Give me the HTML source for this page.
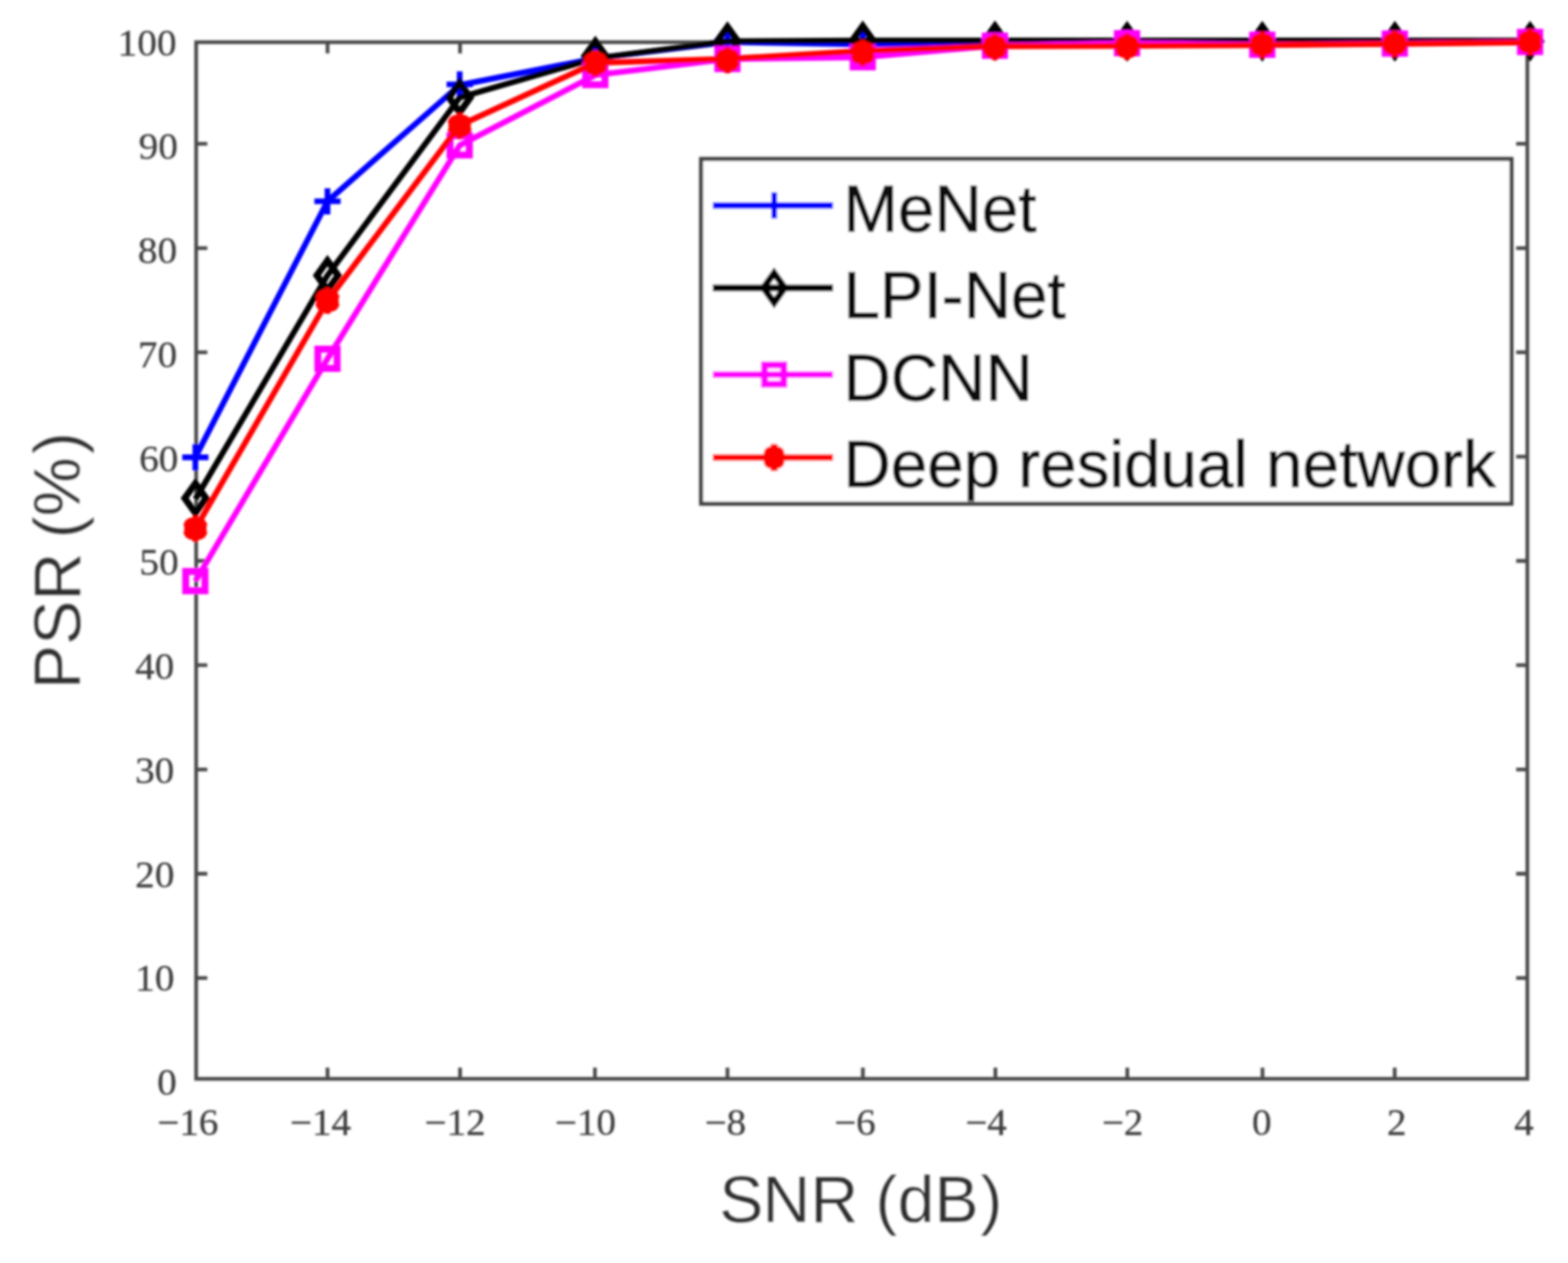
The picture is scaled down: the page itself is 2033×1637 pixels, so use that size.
<!DOCTYPE html>
<html lang="en">
<head>
<meta charset="utf-8">
<title>PSR versus SNR</title>
<style>
html,body{margin:0;padding:0;background:#fff;}
body{width:2033px;height:1637px;}
svg{display:block;}
.tick{font-family:"Liberation Serif","DejaVu Serif",serif;font-size:48px;fill:#3c3c3c;stroke:#3c3c3c;stroke-width:0.3px;}
.axl{font-family:"Liberation Sans","DejaVu Sans",sans-serif;font-size:86px;fill:#2e2e2e;stroke:#fff;stroke-width:0.4px;}
.leg{font-family:"Liberation Sans","DejaVu Sans",sans-serif;font-size:85px;fill:#0c0c0c;stroke:#0c0c0c;stroke-width:1.1px;}
</style>
</head>
<body>
<svg width="2033" height="1637" viewBox="0 0 2033 1637" role="img" aria-label="PSR (%) versus SNR (dB) for MeNet, LPI-Net, DCNN and Deep residual network">
<defs><filter id="soft" x="0" y="0" width="2033" height="1637" filterUnits="userSpaceOnUse"><feGaussianBlur stdDeviation="1.4"/></filter></defs>
<rect width="2033" height="1637" fill="#ffffff"/>
<g id="plot" filter="url(#soft)">

<g stroke="#4a4a4a" stroke-width="4.8" fill="none" stroke-linecap="butt">
<rect x="254.3" y="54.7" width="1726.0" height="1343.6"/>
<path d="M424.7 1398.3v-14.5M424.7 54.7v14.5M596.5 1398.3v-14.5M596.5 54.7v14.5M771.4 1398.3v-14.5M771.4 54.7v14.5M943.2 1398.3v-14.5M943.2 54.7v14.5M1118.8 1398.3v-14.5M1118.8 54.7v14.5M1290.6 1398.3v-14.5M1290.6 54.7v14.5M1461.6 1398.3v-14.5M1461.6 54.7v14.5M1636.9 1398.3v-14.5M1636.9 54.7v14.5M1808.3 1398.3v-14.5M1808.3 54.7v14.5M254.3 1267.7h14.5M1980.3 1267.7h-14.5M254.3 1132.5h14.5M1980.3 1132.5h-14.5M254.3 997.4h14.5M1980.3 997.4h-14.5M254.3 862.2h14.5M1980.3 862.2h-14.5M254.3 727.0h14.5M1980.3 727.0h-14.5M254.3 591.9h14.5M1980.3 591.9h-14.5M254.3 456.7h14.5M1980.3 456.7h-14.5M254.3 321.6h14.5M1980.3 321.6h-14.5M254.3 186.4h14.5M1980.3 186.4h-14.5"/>
</g>
<g class="tick" text-anchor="end">
<text transform="translate(229.3 1419.0) scale(1.06 1)">0</text>
<text transform="translate(226.2 1284.3) scale(1.06 1)">10</text>
<text transform="translate(226.2 1149.5) scale(1.06 1)">20</text>
<text transform="translate(226.0 1014.8) scale(1.06 1)">30</text>
<text transform="translate(226.0 880.1) scale(1.06 1)">40</text>
<text transform="translate(231.7 745.4) scale(1.06 1)">50</text>
<text transform="translate(231.3 610.6) scale(1.06 1)">60</text>
<text transform="translate(229.7 475.9) scale(1.06 1)">70</text>
<text transform="translate(229.7 341.2) scale(1.06 1)">80</text>
<text transform="translate(230.7 206.4) scale(1.06 1)">90</text>
<text transform="translate(228.9 71.7) scale(1.06 1)">100</text>
</g>
<g class="tick" text-anchor="middle">
<text transform="translate(243.5 1471) scale(1.06 1)">−16</text>
<text transform="translate(415.5 1471) scale(1.06 1)">−14</text>
<text transform="translate(590.0 1471) scale(1.06 1)">−12</text>
<text transform="translate(759.0 1471) scale(1.06 1)">−10</text>
<text transform="translate(940.5 1471) scale(1.06 1)">−8</text>
<text transform="translate(1108.5 1471) scale(1.06 1)">−6</text>
<text transform="translate(1278.5 1471) scale(1.06 1)">−4</text>
<text transform="translate(1455.5 1471) scale(1.06 1)">−2</text>
<text transform="translate(1636.0 1471) scale(1.06 1)">0</text>
<text transform="translate(1811.0 1471) scale(1.06 1)">2</text>
<text transform="translate(1976.0 1471) scale(1.06 1)">4</text>
</g>
<g class="axl">
<text x="932.5" y="1584" dx="0 -1.3 0 0 -1.7 0 0 2.2">SNR (dB)</text>
<text transform="translate(103.8 893.2) rotate(-90)" x="0" y="0" dx="0 0 0 0 -5.3 0 3.9">PSR (%)</text>
</g>
<g id="s-blue">
<polyline points="253.3,592.7 424.6,260.9 596.0,110.3 771.9,75.6 943.2,54.5 1118.6,57.5 1290.0,55.0 1461.3,54.5 1636.6,54.5 1808.5,54.5 1983.8,54.5" fill="none" stroke="#0000ff" stroke-width="7.5" stroke-linejoin="round"/>
<path d="M236.3 592.7H270.3M253.3 575.7V609.7" stroke="#0000ff" stroke-width="7.4" fill="none"/>
<path d="M407.6 260.9H441.6M424.6 243.9V277.9" stroke="#0000ff" stroke-width="7.4" fill="none"/>
<path d="M579.0 109.4H613.0M596.0 92.4V126.4" stroke="#0000ff" stroke-width="7.4" fill="none"/>
<path d="M754.9 73.0H788.9M771.9 56.0V90.0" stroke="#0000ff" stroke-width="7.4" fill="none"/>
<path d="M926.2 53.5H960.2M943.2 36.5V70.5" stroke="#0000ff" stroke-width="7.4" fill="none"/>
<path d="M1101.6 57.0H1135.6M1118.6 40.0V74.0" stroke="#0000ff" stroke-width="7.4" fill="none"/>
<path d="M1273.0 54.5H1307.0M1290.0 37.5V71.5" stroke="#0000ff" stroke-width="7.4" fill="none"/>
<path d="M1444.3 54.0H1478.3M1461.3 37.0V71.0" stroke="#0000ff" stroke-width="7.4" fill="none"/>
<path d="M1619.6 54.0H1653.6M1636.6 37.0V71.0" stroke="#0000ff" stroke-width="7.4" fill="none"/>
<path d="M1791.5 54.0H1825.5M1808.5 37.0V71.0" stroke="#0000ff" stroke-width="7.4" fill="none"/>
<path d="M1966.8 54.0H2000.8M1983.8 37.0V71.0" stroke="#0000ff" stroke-width="7.4" fill="none"/>
</g>
<g id="s-black">
<polyline points="253.3,647.0 424.6,356.9 596.0,126.4 771.9,75.6 943.2,53.5 1118.6,52.5 1290.0,52.5 1461.3,52.5 1636.6,52.5 1808.5,52.5 1983.8,52.5" fill="none" stroke="#000000" stroke-width="7.5" stroke-linejoin="round"/>
<path d="M253.3 626.6L267.1 645.8L253.3 665.0L239.5 645.8Z" stroke="#000000" stroke-width="8.6" fill="none" stroke-linejoin="miter"/>
<path d="M424.6 337.7L438.4 356.9L424.6 376.1L410.8 356.9Z" stroke="#000000" stroke-width="8.6" fill="none" stroke-linejoin="miter"/>
<path d="M596.0 107.2L609.8 126.4L596.0 145.6L582.2 126.4Z" stroke="#000000" stroke-width="8.6" fill="none" stroke-linejoin="miter"/>
<path d="M771.9 53.6L785.7 72.8L771.9 92.0L758.1 72.8Z" stroke="#000000" stroke-width="8.6" fill="none" stroke-linejoin="miter"/>
<path d="M943.2 34.8L957.0 54.0L943.2 73.2L929.4 54.0Z" stroke="#000000" stroke-width="8.6" fill="none" stroke-linejoin="miter"/>
<path d="M1118.6 33.8L1132.4 53.0L1118.6 72.2L1104.8 53.0Z" stroke="#000000" stroke-width="8.6" fill="none" stroke-linejoin="miter"/>
<path d="M1290.0 33.8L1303.8 53.0L1290.0 72.2L1276.2 53.0Z" stroke="#000000" stroke-width="8.6" fill="none" stroke-linejoin="miter"/>
<path d="M1461.3 34.3L1475.1 53.5L1461.3 72.7L1447.5 53.5Z" stroke="#000000" stroke-width="8.6" fill="none" stroke-linejoin="miter"/>
<path d="M1636.6 34.3L1650.4 53.5L1636.6 72.7L1622.8 53.5Z" stroke="#000000" stroke-width="8.6" fill="none" stroke-linejoin="miter"/>
<path d="M1808.5 34.3L1822.3 53.5L1808.5 72.7L1794.7 53.5Z" stroke="#000000" stroke-width="8.6" fill="none" stroke-linejoin="miter"/>
<path d="M1983.8 34.3L1997.6 53.5L1983.8 72.7L1970.0 53.5Z" stroke="#000000" stroke-width="8.6" fill="none" stroke-linejoin="miter"/>
</g>
<g id="s-magenta">
<polyline points="253.3,753.2 424.6,465.0 596.0,188.4 771.9,97.3 943.2,76.5 1118.6,74.2 1290.0,59.3 1461.3,56.0 1636.6,58.0 1808.5,56.5 1983.8,54.4" fill="none" stroke="#ff00ff" stroke-width="7.5" stroke-linejoin="round"/>
<rect x="240.8" y="740.7" width="25.0" height="25.0" stroke="#ff00ff" stroke-width="9" fill="none"/>
<rect x="412.1" y="452.5" width="25.0" height="25.0" stroke="#ff00ff" stroke-width="9" fill="none"/>
<rect x="583.5" y="175.9" width="25.0" height="25.0" stroke="#ff00ff" stroke-width="9" fill="none"/>
<rect x="759.4" y="84.8" width="25.0" height="25.0" stroke="#ff00ff" stroke-width="9" fill="none"/>
<rect x="930.7" y="64.0" width="25.0" height="25.0" stroke="#ff00ff" stroke-width="9" fill="none"/>
<rect x="1106.1" y="61.7" width="25.0" height="25.0" stroke="#ff00ff" stroke-width="9" fill="none"/>
<rect x="1277.5" y="46.8" width="25.0" height="25.0" stroke="#ff00ff" stroke-width="9" fill="none"/>
<rect x="1448.8" y="43.5" width="25.0" height="25.0" stroke="#ff00ff" stroke-width="9" fill="none"/>
<rect x="1624.1" y="45.5" width="25.0" height="25.0" stroke="#ff00ff" stroke-width="9" fill="none"/>
<rect x="1796.0" y="44.0" width="25.0" height="25.0" stroke="#ff00ff" stroke-width="9" fill="none"/>
<rect x="1971.3" y="41.9" width="25.0" height="25.0" stroke="#ff00ff" stroke-width="9" fill="none"/>
</g>
<g id="s-red">
<polyline points="253.3,685.3 424.6,389.7 596.0,162.5 771.9,81.5 943.2,76.2 1118.6,66.0 1290.0,60.0 1461.3,59.5 1636.6,58.5 1808.5,57.0 1983.8,55.0" fill="none" stroke="#ff0000" stroke-width="7.5" stroke-linejoin="round"/>
<rect x="238.8" y="670.8" width="29" height="29" rx="10" fill="#ff0000"/><path d="M253.3 668.3V702.3M239.3 677.1L267.3 693.5M239.3 693.5L267.3 677.1" stroke="#ff0000" stroke-width="7.5" fill="none"/>
<rect x="410.1" y="375.2" width="29" height="29" rx="10" fill="#ff0000"/><path d="M424.6 372.7V406.7M410.6 381.5L438.6 397.9M410.6 397.9L438.6 381.5" stroke="#ff0000" stroke-width="7.5" fill="none"/>
<rect x="581.5" y="148.8" width="29" height="29" rx="10" fill="#ff0000"/><path d="M596.0 146.3V180.3M582.0 155.1L610.0 171.5M582.0 171.5L610.0 155.1" stroke="#ff0000" stroke-width="7.5" fill="none"/>
<rect x="757.4" y="67.8" width="29" height="29" rx="10" fill="#ff0000"/><path d="M771.9 65.3V99.3M757.9 74.1L785.9 90.5M757.9 90.5L785.9 74.1" stroke="#ff0000" stroke-width="7.5" fill="none"/>
<rect x="928.7" y="63.4" width="29" height="29" rx="10" fill="#ff0000"/><path d="M943.2 60.9V94.9M929.2 69.7L957.2 86.1M929.2 86.1L957.2 69.7" stroke="#ff0000" stroke-width="7.5" fill="none"/>
<rect x="1104.1" y="54.1" width="29" height="29" rx="10" fill="#ff0000"/><path d="M1118.6 51.6V85.6M1104.6 60.4L1132.6 76.8M1104.6 76.8L1132.6 60.4" stroke="#ff0000" stroke-width="7.5" fill="none"/>
<rect x="1275.5" y="46.6" width="29" height="29" rx="10" fill="#ff0000"/><path d="M1290.0 44.1V78.1M1276.0 52.9L1304.0 69.3M1276.0 69.3L1304.0 52.9" stroke="#ff0000" stroke-width="7.5" fill="none"/>
<rect x="1446.8" y="46.0" width="29" height="29" rx="10" fill="#ff0000"/><path d="M1461.3 43.5V77.5M1447.3 52.3L1475.3 68.7M1447.3 68.7L1475.3 52.3" stroke="#ff0000" stroke-width="7.5" fill="none"/>
<rect x="1622.1" y="43.5" width="29" height="29" rx="10" fill="#ff0000"/><path d="M1636.6 41.0V75.0M1622.6 49.8L1650.6 66.2M1622.6 66.2L1650.6 49.8" stroke="#ff0000" stroke-width="7.5" fill="none"/>
<rect x="1794.0" y="42.2" width="29" height="29" rx="10" fill="#ff0000"/><path d="M1808.5 39.7V73.7M1794.5 48.5L1822.5 64.9M1794.5 64.9L1822.5 48.5" stroke="#ff0000" stroke-width="7.5" fill="none"/>
<rect x="1969.3" y="40.0" width="29" height="29" rx="10" fill="#ff0000"/><path d="M1983.8 37.5V71.5M1969.8 46.3L1997.8 62.7M1969.8 62.7L1997.8 46.3" stroke="#ff0000" stroke-width="7.5" fill="none"/>
</g>
<rect x="909.0" y="206.0" width="1050.7" height="446.9" fill="#ffffff" stroke="#404040" stroke-width="5.2"/>
<path d="M924.3 266.2H1080.1" stroke="#0000ff" stroke-width="8.6" fill="none"/>
<path d="M986.7 266.2H1020.7M1003.7 249.2V283.2" stroke="#0000ff" stroke-width="7.4" fill="none"/>
<text class="leg" x="1093.5" y="299.8">MeNet</text>
<path d="M924.3 373.1H1080.1" stroke="#000000" stroke-width="8.6" fill="none"/>
<path d="M1003.7 353.9L1017.5 373.1L1003.7 392.3L989.9 373.1Z" stroke="#000000" stroke-width="8.6" fill="none" stroke-linejoin="miter"/>
<text class="leg" x="1093.5" y="411.6">LPI-Net</text>
<path d="M924.3 485.5H1080.1" stroke="#ff00ff" stroke-width="8.6" fill="none"/>
<rect x="991.2" y="473.0" width="25.0" height="25.0" stroke="#ff00ff" stroke-width="9" fill="none"/>
<text class="leg" x="1093.5" y="518.5">DCNN</text>
<path d="M924.3 593.0H1080.1" stroke="#ff0000" stroke-width="8.6" fill="none"/>
<rect x="990.2" y="578.5" width="27" height="29" rx="9" fill="#ff0000"/><path d="M1003.7 575.5V610.5" stroke="#ff0000" stroke-width="9" fill="none"/>
<text class="leg" x="1093.5" y="630.6">Deep residual network</text>
</g>
</svg>
</body>
</html>
